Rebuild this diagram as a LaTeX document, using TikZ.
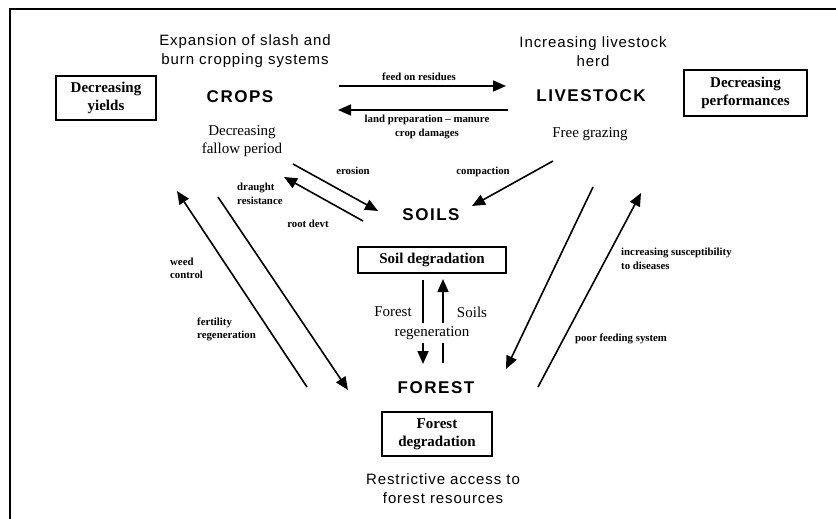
\documentclass[tikz,border=0pt]{standalone}
\usepackage{fontspec}
\setmainfont{Liberation Serif}
\newfontfamily\plainsans[LetterSpace=6]{Liberation Sans}
\newfontfamily\headsans[LetterSpace=9]{Liberation Sans}
\usetikzlibrary{arrows.meta}

\tikzset{
  title/.style={font=\headsans\bfseries\fontsize{17}{18}\selectfont, inner sep=0pt},
  phrase/.style={font=\plainsans\fontsize{15}{19}\selectfont, align=center, inner sep=0pt},
  serifnote/.style={font=\fontsize{15}{18}\selectfont, align=center, inner sep=0pt},
  boxed/.style={draw, line width=1.4pt, font=\bfseries\fontsize{15}{18}\selectfont, align=center, inner sep=0pt},
  tag/.style={font=\bfseries\fontsize{10.8}{13.5}\selectfont, inner sep=0pt},
  lefttag/.style={tag, anchor=west, align=left},
  link/.style={line width=1.6pt, -{Triangle[length=13pt,width=11pt]}},
  frame/.style={line width=1.8pt},
}

\begin{document}
\begin{tikzpicture}[x=1pt, y=-1pt]
\useasboundingbox (0,0) rectangle (836,519);

% outer frame (top and left edges)
\draw[frame] (10,519) -- (10,9) -- (836,9);

% the four components
\node[title] (crops) at (240,97) {CROPS};
\node[title] (livestock) at (591,96) {LIVESTOCK};
\node[title] (soils) at (431,215) {SOILS};
\node[title] (forest) at (436,388) {FOREST};

% driving pressures
\node[phrase] (slash) at (245,51) {Expansion of slash and\\burn cropping systems};
\node[phrase] (herd) at (593,52) {Increasing livestock\\herd};
\node[phrase] (access) at (443,489) {Restrictive access to\\forest resources};
\node[serifnote] (fallow) at (242,141) {Decreasing\\fallow period};
\node[serifnote] (grazing) at (590,134) {Free grazing};

% outcomes
\node[boxed, minimum width=100pt, minimum height=44pt] (yields) at (106,98) {Decreasing\\yields};
\node[boxed, minimum width=123pt, minimum height=46pt] (perf) at (745.5,93) {Decreasing\\performances};
\node[boxed, minimum width=148pt, minimum height=26pt] (soildeg) at (432,260) {Soil degradation};
\node[boxed, minimum width=110pt, minimum height=44pt] (forestdeg) at (437,434) {Forest\\degradation};

% arrow end points
\coordinate (feedA) at (339,86);   \coordinate (feedB) at (506,86);
\coordinate (landA) at (508,110);  \coordinate (landB) at (338,110);
\coordinate (eroA) at (293,164);   \coordinate (eroB) at (378,211);
\coordinate (rootA) at (363,221);  \coordinate (rootB) at (284,177);
\coordinate (compA) at (553,161);  \coordinate (compB) at (472,206);
\coordinate (weedA) at (307,387);  \coordinate (weedB) at (177,191);
\coordinate (fertA) at (218,197);  \coordinate (fertB) at (348,390);
\coordinate (regA) at (423,280);   \coordinate (regB) at (423,364);
\coordinate (soilA) at (443,363);  \coordinate (soilB) at (443,279);
\coordinate (grazA) at (593,187);  \coordinate (grazB) at (506,369);
\coordinate (feedsA) at (538,387); \coordinate (feedsB) at (641,193);

% connectors
\draw[link] (feedA) -- (feedB);
\draw[link] (landA) -- (landB);
\draw[link] (eroA) -- (eroB);
\draw[link] (rootA) -- (rootB);
\draw[link] (compA) -- (compB);
\draw[link] (weedA) -- (weedB);
\draw[link] (fertA) -- (fertB);
\draw[link] (regA) -- (regB);
\draw[link] (soilA) -- (soilB);
\draw[link] (grazA) -- (grazB);
\draw[link] (feedsA) -- (feedsB);

% connector labels
\node[tag] (lfeed) at (419,77) {feed on residues};
\node[tag, align=center] (lland) at (427,127) {land preparation -- manure\\crop damages};
\node[tag] (lero) at (353,171) {erosion};
\node[tag] (lroot) at (308,224) {root devt};
\node[lefttag] (ldraught) at (237,194) {draught\\resistance};
\node[tag] (lcomp) at (483,172) {compaction};
\node[lefttag] (lweed) at (170,268.5) {weed\\control};
\node[lefttag] (lfert) at (197,329.5) {fertility\\regeneration};
\node[lefttag] (lsus) at (621,259) {increasing susceptibility\\to diseases};
\node[lefttag] (lpoor) at (575,339) {poor feeding system};

\node[serifnote] (lforest) at (393,312) {Forest};
\node[serifnote] (lsoils) at (472,312) {Soils};
\node[serifnote, fill=white, inner ysep=3pt] (lregen) at (432,333) {regeneration};
\end{tikzpicture}
\end{document}
